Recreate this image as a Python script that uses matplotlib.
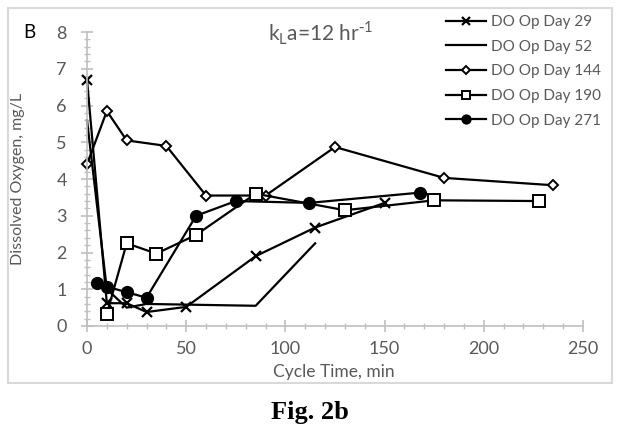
import matplotlib
matplotlib.use('Agg')
import matplotlib.pyplot as plt
from matplotlib.patches import Rectangle
from matplotlib.ticker import MultipleLocator

plt.rcParams['font.family'] = ['Lato', 'DejaVu Sans']

# values (cycle time in min, DO in mg/L)
day29_t = [0, 10, 20, 30, 50, 85, 115, 150]
day29_do = [6.7, 0.62, 0.62, 0.38, 0.52, 1.9, 2.68, 3.35]

day52_t = [0, 10, 20, 30, 85, 115]
day52_do = [5.6, 1.0, 0.5, 0.6, 0.55, 2.25]

day144_t = [0, 10, 20, 40, 60, 90, 125, 180, 235]
day144_do = [4.4, 5.85, 5.05, 4.9, 3.55, 3.55, 4.87, 4.03, 3.83]

day190_t = [10, 20, 35, 55, 85, 130, 175, 228]
day190_do = [0.33, 2.25, 1.97, 2.48, 3.6, 3.15, 3.42, 3.4]

day271_t = [5, 10, 20, 30, 55, 75, 112, 168]
day271_do = [1.18, 1.07, 0.92, 0.77, 3.0, 3.4, 3.35, 3.63]

gray = '#595959'
axis_gray = '#bfbfbf'

fig = plt.figure(figsize=(6.22, 4.36), dpi=100)
ax = fig.add_axes([87/622, 1 - 326/436, 496/622, 294/436])

lw = 1.6
ax.plot(day29_t, day29_do, color='black', lw=lw, marker='x', ms=7, mew=1.6,
        label='DO Op Day 29', clip_on=False)
ax.plot(day52_t, day52_do, color='black', lw=lw, label='DO Op Day 52',
        clip_on=False)
ax.plot(day144_t, day144_do, color='black', lw=lw, marker='D', ms=5.5, mew=1.4,
        mfc='white', label='DO Op Day 144', clip_on=False)
ax.plot(day190_t, day190_do, color='black', lw=lw, marker='s', ms=8, mew=1.4,
        mfc='white', label='DO Op Day 190', clip_on=False)
ax.plot(day271_t, day271_do, color='black', lw=lw, marker='o', ms=8.5,
        label='DO Op Day 271', clip_on=False)

ax.set_xlim(0, 250)
ax.set_ylim(0, 8)
ax.xaxis.set_major_locator(MultipleLocator(50))
ax.xaxis.set_minor_locator(MultipleLocator(10))
ax.yaxis.set_major_locator(MultipleLocator(1))
ax.yaxis.set_minor_locator(MultipleLocator(0.2))

for side in ['top', 'right']:
    ax.spines[side].set_visible(False)
for side in ['left', 'bottom']:
    ax.spines[side].set_color(axis_gray)
    ax.spines[side].set_linewidth(1.2)

ax.tick_params(which='major', direction='inout', length=9, width=1.2,
               color=axis_gray, labelcolor=gray, labelsize=13)
ax.tick_params(which='minor', direction='inout', length=5, width=1.0,
               color=axis_gray)
ax.tick_params(axis='x', which='major', pad=6)
ax.tick_params(axis='y', which='major', pad=10)

ax.set_xlabel('Cycle Time, min', color=gray, fontsize=12.5)
ax.xaxis.set_label_coords(0.498, -0.13)
ax.set_ylabel('Dissolved Oxygen, mg/L', color=gray, fontsize=11.5)
ax.yaxis.set_label_coords(-0.125, 0.5)

fig.text(29/622, 1 - 32/436, 'B', fontsize=13.5, color='black',
         ha='center', va='center')
fig.text(321/622, 1 - 33/436,
         r'k$_\mathregular{L}$a=12 hr$^\mathregular{\text{-}1}$',
         fontsize=15, color=gray, ha='center', va='center')

fig.legend(loc='upper left', bbox_to_anchor=(446/622, 1 - 15/436),
           frameon=False, fontsize=11, labelcolor=gray, handlelength=2.6,
           handletextpad=0.35, labelspacing=0.7, borderpad=0, borderaxespad=0,
           markerscale=0.75)

fig.patches.append(Rectangle((8/622, 1 - 383/436), 604/622, 375/436,
                             transform=fig.transFigure, fill=False,
                             edgecolor='#d9d9d9', lw=1.5))

fig.text(310/622, 1 - 412/436, 'Fig. 2b', fontsize=19, fontweight='bold',
         family='Liberation Serif', ha='center', va='center')

plt.savefig('out.png', dpi=100)
plt.close()
